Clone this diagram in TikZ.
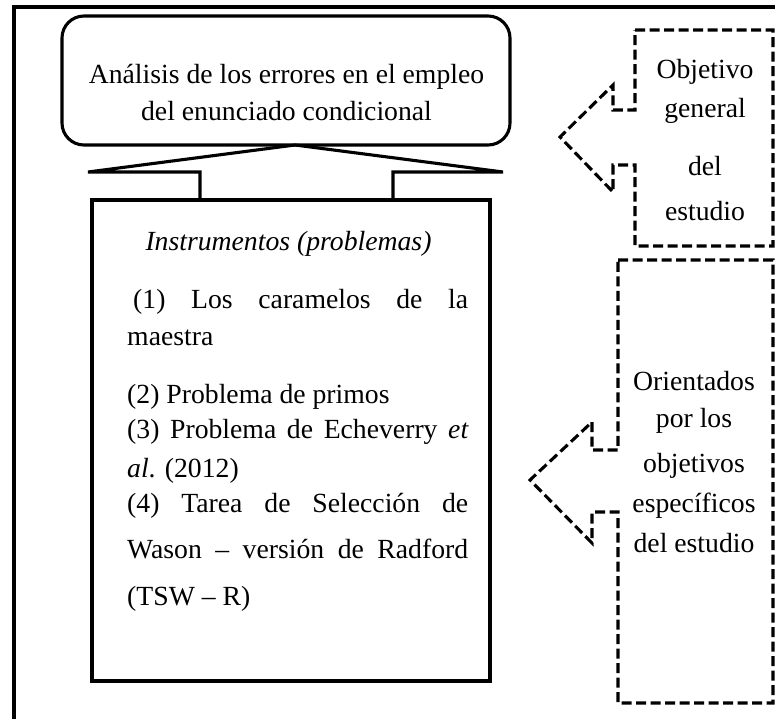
\documentclass[tikz,border=0pt]{standalone}
\usepackage{fontspec}
\setmainfont{Liberation Serif}
\begin{document}
\begin{tikzpicture}[x=1pt,y=-1pt,
  txt/.style={font=\fontsize{27.7}{33}\selectfont, inner sep=0pt, anchor=base},
  ltxt/.style={txt, anchor=base west},
  frameline/.style={line width=3.2pt},
  solidline/.style={line width=3.1pt, line join=miter},
  dashline/.style={line width=3.1pt, dash pattern=on 10pt off 4.5pt, line join=miter}]
\useasboundingbox (0,0) rectangle (775,718);
% outer frame (cropped at right and bottom)
\draw[frameline] (14,722) -- (14,7) -- (779,7);
% goal box
\node[draw, solidline, rounded corners=22pt, minimum width=448pt, minimum height=129pt, inner sep=0pt] (goal) at (286,80.5) {};
\node[txt] (g1) at (286.5,83) {Análisis de los errores en el empleo};
\node[txt] (g2) at (286.5,120) {del enunciado condicional};
% instruments box
\node[draw, solidline, minimum width=398pt, minimum height=481pt, inner sep=0pt] (inst) at (291,440.5) {};
% block arrow between
\coordinate (apex) at (295,145);
\coordinate (bl) at (88,172);
\coordinate (br) at (503,172);
\coordinate (sl) at (200,172);
\coordinate (sr) at (393,172);
\coordinate (slb) at (200,200);
\coordinate (srb) at (393,200);
\draw[solidline] (slb) -- (sl) -- (bl) -- (apex) -- (br) -- (sr) -- (srb);
% instruments texts
\node[txt] (t0) at (288.5,250) {\itshape Instrumentos (problemas)};
\node[ltxt] (t1) at (133,308) {\makebox[335pt][s]{(1) Los caramelos de la}};
\node[ltxt] (t2) at (127,345) {maestra};
\node[ltxt] (t3) at (127,403) {(2) Problema de primos};
\node[ltxt] (t4) at (127,438) {\makebox[341pt][s]{(3) Problema de Echeverry \itshape et}};
\node[ltxt] (t5) at (127,477) {\textit{al}. (2012)};
\node[ltxt] (t6) at (127,512) {\makebox[341pt][s]{(4) Tarea de Selección de}};
\node[ltxt] (t7) at (127,558) {\makebox[341pt][s]{Wason – versión de Radford}};
\node[ltxt] (t8) at (127,605) {(TSW – R)};
% dashed arrow box 1
\draw[dashline] (635,30) -- (773,30) -- (773,246) -- (635,246) -- (635,165) -- (613,165) -- (613,192) -- (560,137) -- (613,85) -- (613,110) -- (635,110) -- cycle;
\node[txt] (o1) at (705,78) {Objetivo};
\node[txt] (o2) at (705,117) {general};
\node[txt] (o3) at (705,175) {del};
\node[txt] (o4) at (705,220) {estudio};
% dashed arrow box 2
\draw[dashline] (618,260) -- (773,260) -- (773,703) -- (618,703) -- (618,512) -- (592,512) -- (592,543) -- (530,480) -- (592,422) -- (592,450) -- (618,450) -- cycle;
\node[txt] (s1) at (694,390) {Orientados};
\node[txt] (s2) at (694,427) {por los};
\node[txt] (s3) at (694,472) {objetivos};
\node[txt] (s4) at (694,512) {específicos};
\node[txt] (s5) at (694,552) {del estudio};
\end{tikzpicture}
\end{document}
